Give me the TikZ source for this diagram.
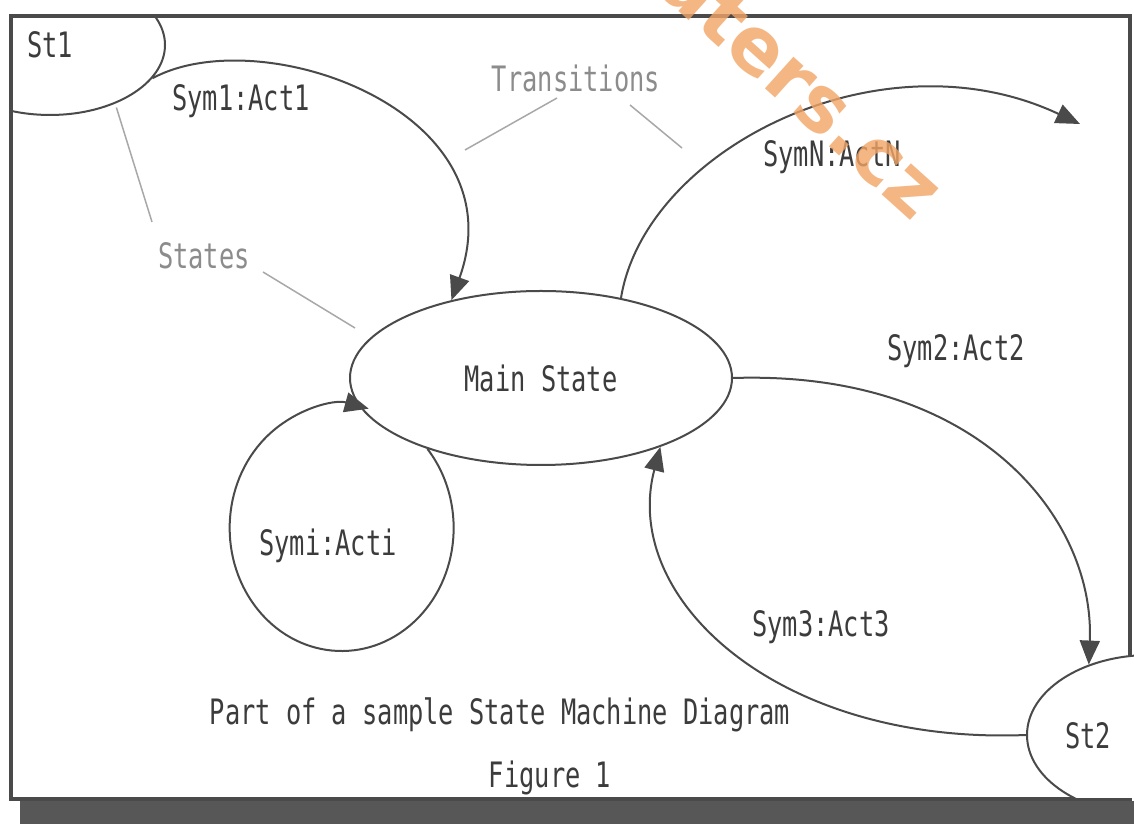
\documentclass[tikz,border=0pt]{standalone}
\usepackage{fontspec}
\newfontfamily\pix[FakeStretch=0.725]{DejaVu Sans Mono}
\newfontfamily\wmfont{DejaVu Sans}
\usetikzlibrary{arrows.meta,shapes.geometric}
\definecolor{ink}{HTML}{3C3C3C}
\definecolor{lineink}{HTML}{4A4A4A}
\definecolor{note}{HTML}{8C8C8C}
\definecolor{noteline}{HTML}{A8A8A8}
\definecolor{shadowgray}{HTML}{575757}
\definecolor{wmorange}{HTML}{F2A566}
\begin{document}
\begin{tikzpicture}[x=1pt,y=1pt,
  lbl/.style={font=\pix\fontsize{35}{40}\selectfont, text=ink, inner sep=0pt},
  notelbl/.style={lbl, text=note},
  state/.style={ellipse, draw=lineink, line width=2pt, inner sep=0pt, font=\pix\fontsize{35}{40}\selectfont, text=ink},
  trans/.style={draw=lineink, line width=2pt, -{Triangle[length=24pt,width=20pt]}},
  pointer/.style={draw=noteline, line width=1.5pt},
]
\useasboundingbox (0,0) rectangle (1134,824);
\fill[white] (0,0) rectangle (1134,824);
% shadow and frame
\fill[shadowgray] (20,0) rectangle (1134,23);
\draw[lineink, line width=3.5pt] (11,25) rectangle (1130,808);
% St1
\begin{scope}
  \clip (11,25) rectangle (1130,808);
  \node[state, minimum width=230pt, minimum height=140pt] (st1) at (50,779) {St1};
\end{scope}
% Main state
\node[state, minimum width=382pt, minimum height=174pt] (main) at (541,446) {Main State};
% St2
\begin{scope}
  \clip (0,26.5) rectangle (1134,824);
  \node[state, fill=white, minimum width=246pt, minimum height=160pt] (st2) at (1150,89) {};
\end{scope}
\node[lbl] (st2txt) at (1088,88) {St2};
% free end
\coordinate (symNend) at (1080,700);
% transitions
\draw[trans] (st1.-18) .. controls (260,804) and (520,714) .. (main.139);
\draw[trans] (main.45) .. controls (645,674) and (880,794) .. (symNend);
\draw[trans] (main.east) .. controls (980,454) and (1095,304) .. (st2.131);
\draw[trans] (st2.west) .. controls (780,79) and (620,224) .. (main.-30);
\draw[trans] (main.212) arc[start angle=40, end angle=-284, x radius=112, y radius=123];
% labels
\node[lbl] (l1) at (241,723) {Sym1:Act1};
\node[lbl] (lN) at (832,667) {SymN:ActN};
\node[lbl] (l2) at (956,473) {Sym2:Act2};
\node[lbl] (l3) at (821,197) {Sym3:Act3};
\node[lbl] (li) at (328,278) {Symi:Acti};
\node[notelbl] (trn) at (576,746) {Transitions};
\node[notelbl] (sts) at (204,568) {States};
\node[lbl] (cap) at (500,109) {Part of a sample State Machine Diagram};
\node[lbl] (fig) at (550,46) {Figure 1};
% pointers
\coordinate (trnA) at (557,726);
\coordinate (trnB) at (465,674);
\coordinate (trnC) at (630,719);
\coordinate (trnD) at (682,676);
\coordinate (stsA) at (152,602);
\coordinate (stsC) at (263,552);
\coordinate (stsD) at (355,496);
\draw[pointer] (trnA) -- (trnB);
\draw[pointer] (trnC) -- (trnD);
\draw[pointer, shorten >=4pt] (stsA) -- (st1.-42);
\draw[pointer] (stsC) -- (stsD);
% watermark
\begin{scope}
  \clip (0,0) rectangle (1134,824);
  \node[font=\wmfont\bfseries\fontsize{78}{80}\selectfont, text=wmorange, text opacity=0.8, rotate=-42] (wm) at (802,738) {aters.cz};
\end{scope}
\end{tikzpicture}
\end{document}
